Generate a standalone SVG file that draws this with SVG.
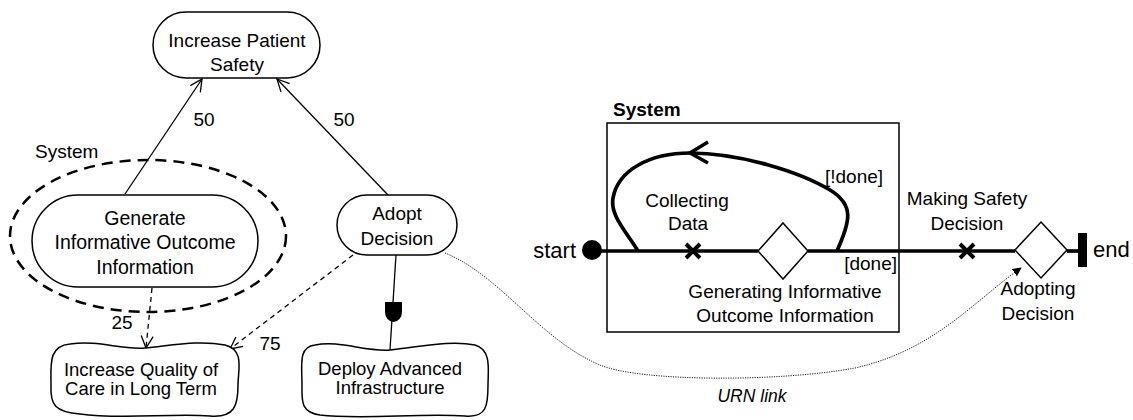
<svg xmlns="http://www.w3.org/2000/svg" width="1133" height="420" viewBox="0 0 1133 420">
<defs>
<style>
text{font-family:"Liberation Sans",Arial,sans-serif;font-size:19px;fill:#000}
.c{text-anchor:middle}
.node{fill:#fff;stroke:#000;stroke-width:1.5}
.ln{fill:none;stroke:#000;stroke-width:1.3}
.dash{fill:none;stroke:#000;stroke-width:1.3;stroke-dasharray:5,4}
.path{fill:none;stroke:#000;stroke-width:3.7}
.cl{font-size:18.5px}
</style>
<marker id="open" viewBox="0 0 14 14" refX="13" refY="7" markerWidth="14" markerHeight="14" markerUnits="userSpaceOnUse" orient="auto">
<path d="M1,1 L13,7 L1,13" fill="none" stroke="#000" stroke-width="1.3"/>
</marker>
<marker id="fill" viewBox="0 0 10 10" refX="9" refY="5" markerWidth="9" markerHeight="9" markerUnits="userSpaceOnUse" orient="auto">
<path d="M0,0 L10,5 L0,10 Z" fill="#000"/>
</marker>
</defs>
<rect width="1133" height="420" fill="#fff"/>

<g id="connectors">
<line class="ln" x1="125" y1="194" x2="202" y2="79" marker-end="url(#open)"/>
<line class="ln" x1="388" y1="195" x2="277" y2="79" marker-end="url(#open)"/>
<line class="dash" x1="152" y1="288" x2="146" y2="348" marker-end="url(#open)"/>
<line class="dash" x1="353" y1="255" x2="230" y2="349" marker-end="url(#open)"/>
<line class="ln" x1="396" y1="255" x2="390" y2="350"/>
<path d="M385,302 H402 V312 A8.5,10 0 0 1 385,312 Z" fill="#000"/>
<path d="M445,253 C500,275 540,340 600,365 C640,382 780,382 855,368 C935,350 975,300 1021,268" fill="none" stroke="#000" stroke-width="0.9" stroke-dasharray="1.2,1.2" marker-end="url(#fill)"/>
<text x="204" y="126" class="c">50</text>
<text x="344" y="126" class="c">50</text>
<text x="122" y="329" class="c">25</text>
<text x="270" y="350" class="c">75</text>
<text x="752" y="402" class="c" style="font-style:italic;font-size:17.5px">URN link</text>
</g>

<g id="system-actor">
<ellipse cx="148" cy="236" rx="138" ry="76" fill="none" stroke="#000" stroke-width="2.5" stroke-dasharray="11,7"/>
<text x="35" y="158">System</text>
</g>

<g id="increase-patient-safety">
<rect class="node" x="153" y="12" width="167" height="66" rx="33" ry="33"/>
<text x="237" y="47" class="c">Increase Patient</text>
<text x="237" y="71" class="c">Safety</text>
</g>

<g id="generate-info">
<rect class="node" x="32" y="195" width="226" height="92" rx="46" ry="46"/>
<text x="145" y="225" class="c" style="font-size:19.5px">Generate</text>
<text x="145" y="249" class="c" style="font-size:19.5px">Informative Outcome</text>
<text x="145" y="274" class="c" style="font-size:19.5px">Information</text>
</g>

<g id="adopt-decision">
<rect class="node" x="337" y="195" width="120" height="60" rx="30" ry="30"/>
<text x="397" y="220" class="c">Adopt</text>
<text x="397" y="245" class="c">Decision</text>
</g>

<g id="increase-quality">
<path class="node" d="M70,344 C100,340 120,350 145,348 C175,345 200,340 225,345 C245,350 238,370 238,385 C238,405 235,418 210,416 C170,413 120,420 80,414 C55,412 50,405 51,385 C51,365 48,346 70,344 Z"/>
<text x="141" y="376" class="c cl">Increase Quality of</text>
<text x="141" y="395" class="c cl">Care in Long Term</text>
</g>

<g id="deploy-infrastructure">
<path class="node" d="M315,345 C340,340 365,352 390,350 C420,347 450,340 475,345 C492,350 488,370 488,385 C488,405 487,418 465,416 C420,413 360,420 320,415 C300,412 302,400 302,385 C302,365 298,347 315,345 Z"/>
<text x="390" y="375" class="c cl">Deploy Advanced</text>
<text x="390" y="394" class="c cl">Infrastructure</text>
</g>

<g id="system-component">
<rect x="607" y="123" width="292" height="209" fill="none" stroke="#000" stroke-width="1.5"/>
<text x="613" y="116" style="font-weight:bold">System</text>
</g>

<g id="ucm-path">
<line class="path" x1="592" y1="251" x2="758" y2="251"/>
<line class="path" x1="808" y1="251" x2="1015" y2="251"/>
<line class="path" x1="1067" y1="251" x2="1078" y2="251"/>
<path class="path" d="M638,251 C625,230 610,215 613,198 C618,170 650,153 690,153 C740,153 800,172 830,190 C855,205 850,222 837,251"/>
<path d="M708,142 L690,153 L708,163" fill="none" stroke="#000" stroke-width="3.5"/>
<text x="854" y="183" class="c">[!done]</text>
<text x="897" y="270" style="text-anchor:end">[done]</text>
</g>

<g id="start">
<circle cx="592" cy="250" r="10" fill="#000"/>
<text x="576" y="258" style="text-anchor:end;font-size:22px">start</text>
</g>

<g id="collecting-data">
<path d="M686,244 L700,258 M700,244 L686,258" stroke="#000" stroke-width="4"/>
<text x="687" y="207" class="c">Collecting</text>
<text x="688" y="230" class="c">Data</text>
</g>

<g id="generating-info-stub">
<path d="M783,223 L808,251 L783,279 L758,251 Z" fill="#fff" stroke="#000" stroke-width="1.5"/>
<text x="785" y="298" class="c">Generating Informative</text>
<text x="785" y="322" class="c">Outcome Information</text>
</g>

<g id="making-safety-decision">
<path d="M960,244 L974,258 M974,244 L960,258" stroke="#000" stroke-width="4"/>
<text x="967" y="205" class="c">Making Safety</text>
<text x="967" y="230" class="c">Decision</text>
</g>

<g id="adopting-decision">
<path d="M1041,222 L1067,250 L1041,278 L1015,250 Z" fill="#fff" stroke="#000" stroke-width="1.5"/>
<text x="1038" y="295" class="c">Adopting</text>
<text x="1038" y="320" class="c">Decision</text>
</g>

<g id="end">
<rect x="1078" y="233" width="9" height="34" fill="#000"/>
<text x="1093" y="257" style="font-size:22px">end</text>
</g>
</svg>
